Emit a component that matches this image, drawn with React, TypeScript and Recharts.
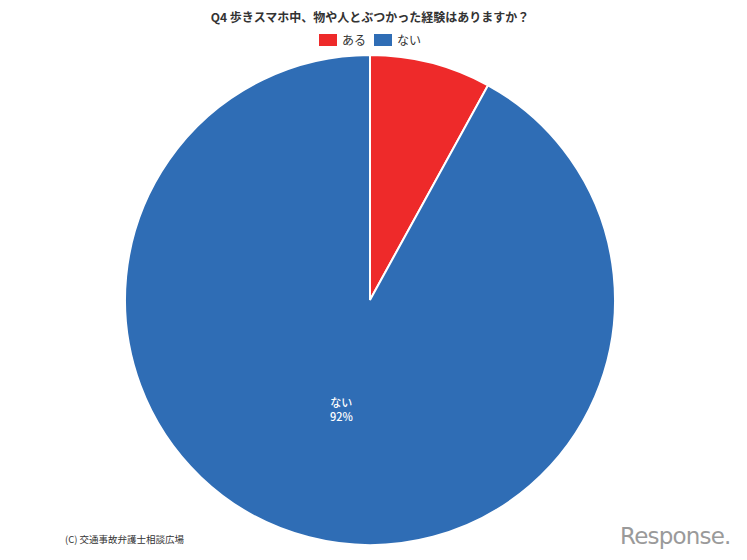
import { Cell, Pie, PieChart } from "recharts";

const categories = ["ある", "ない"];
const values = [8, 92];
const colors = ["#EE2A2A", "#2F6DB5"];

const data = categories.map((name, i) => ({ name, value: values[i] }));

const RADIAN = Math.PI / 180;

const renderLabel = (props: any) => {
  const { cx, cy, midAngle, outerRadius, name, percent } = props;
  if (percent < 0.1) return null;
  const r = outerRadius * 0.47;
  const x = cx + r * Math.cos(-midAngle * RADIAN);
  const y = cy + r * Math.sin(-midAngle * RADIAN);
  return (
    <text
      x={x}
      y={y}
      fill="#ffffff"
      textAnchor="middle"
      fontSize={11}
      fontWeight={500}
      fontFamily="'Noto Sans CJK JP', sans-serif"
    >
      <tspan x={x} dy={-5}>
        {name}
      </tspan>
      <tspan x={x} dy={14}>
        {`${Math.round(percent * 100)}%`}
      </tspan>
    </text>
  );
};

export default function App() {
  return (
    <div
      style={{
        position: "absolute",
        top: 0,
        left: 0,
        width: 747,
        height: 560,
        background: "#fff",
        fontFamily: "'Noto Sans CJK JP', sans-serif",
      }}
    >
      <div
        style={{
          position: "absolute",
          top: 8,
          left: 0,
          width: 740,
          textAlign: "center",
          fontSize: 12,
          fontWeight: "bold",
          color: "#333",
        }}
      >
        Q4 歩きスマホ中、物や人とぶつかった経験はありますか？
      </div>
      <div
        style={{
          position: "absolute",
          top: 31,
          left: 0,
          width: 740,
          display: "flex",
          justifyContent: "center",
          gap: 8,
          fontSize: 12,
          color: "#333",
        }}
      >
        {categories.map((c, i) => (
          <div key={c} style={{ display: "flex", alignItems: "center", gap: 5 }}>
            <span
              style={{ width: 18, height: 12, background: colors[i], display: "inline-block" }}
            />
            <span>{c}</span>
          </div>
        ))}
      </div>
      <PieChart width={747} height={560} margin={{ top: 0, right: 0, bottom: 0, left: 0 }}>
        <Pie
          data={data}
          dataKey="value"
          nameKey="name"
          cx={370}
          cy={300}
          outerRadius={245}
          startAngle={90}
          endAngle={-270}
          stroke="#ffffff"
          strokeWidth={2}
          label={renderLabel}
          labelLine={false}
          isAnimationActive={false}
        >
          {data.map((d, i) => (
            <Cell key={d.name} fill={colors[i]} />
          ))}
        </Pie>
      </PieChart>
      <div
        style={{
          position: "absolute",
          left: 65,
          top: 532,
          fontSize: 9.5,
          color: "#333",
        }}
      >
        (C) 交通事故弁護士相談広場
      </div>
      <div
        style={{
          position: "absolute",
          left: 620,
          top: 523,
          fontSize: 23,
          color: "#9a9a9a",
          fontFamily: "'DejaVu Sans', sans-serif",
          letterSpacing: -0.8,
        }}
      >
        Response.
      </div>
    </div>
  );
}
